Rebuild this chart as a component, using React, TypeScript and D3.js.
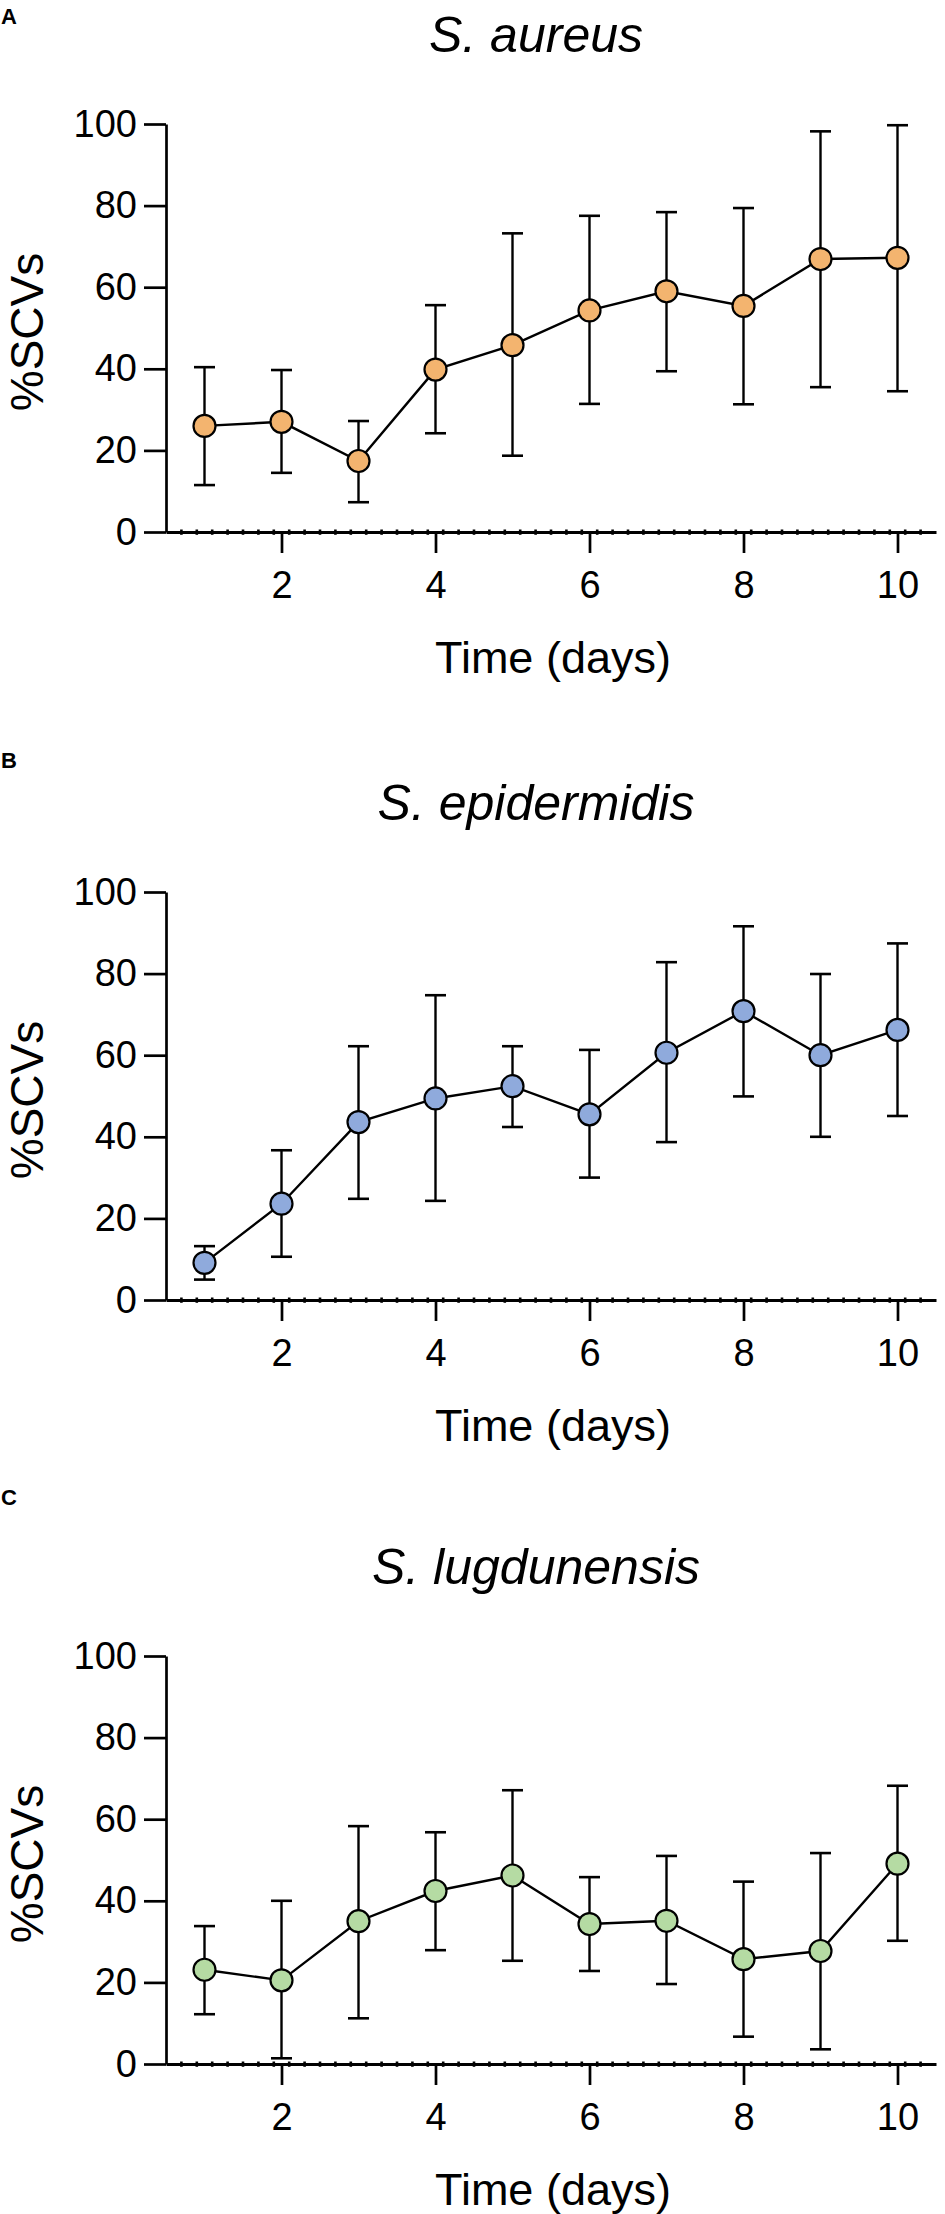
import * as d3 from "d3";
import { useEffect, useRef } from "react";

// values (mean and the two ends of each error bar)
const days = [1, 2, 3, 4, 5, 6, 7, 8, 9, 10];

const aureusMean = [26.0, 27.0, 17.4, 39.8, 45.8, 54.3, 59.0, 55.4, 66.9, 67.2];
const aureusUpper = [40.4, 39.7, 27.2, 55.6, 73.2, 77.5, 78.4, 79.4, 98.2, 99.7];
const aureusLower = [11.5, 14.5, 7.3, 24.2, 18.7, 31.4, 39.4, 31.3, 35.5, 34.5];

const epiMean = [9.1, 23.6, 43.6, 49.4, 52.4, 45.5, 60.6, 70.8, 60.0, 66.2];
const epiUpper = [13.2, 36.7, 62.2, 74.7, 62.2, 61.3, 82.8, 91.6, 79.9, 87.4];
const epiLower = [5.0, 10.6, 24.8, 24.3, 42.4, 30.0, 38.7, 49.9, 40.0, 45.1];

const lugMean = [23.1, 20.5, 35.0, 42.4, 46.2, 34.3, 35.1, 25.7, 27.7, 49.1];
const lugUpper = [33.8, 40.0, 58.3, 56.8, 67.1, 45.8, 51.0, 44.7, 51.7, 68.2];
const lugLower = [12.2, 1.4, 11.2, 27.9, 25.3, 22.8, 19.6, 6.7, 3.6, 30.2];

const yTicks = [0, 20, 40, 60, 80, 100];
const xTicks = [2, 4, 6, 8, 10];

const font = "'Liberation Sans', Arial, sans-serif";
const width = 945;
const height = 2214;
const margin = { top: 124, left: 166 };
const plotW = 770;
const plotH = 408;

interface Panel {
  letter: string;
  letterY: number;
  offset: number;
  title: string;
  color: string;
  mean: number[];
  upper: number[];
  lower: number[];
}

const panels: Panel[] = [
  { letter: "A", letterY: 24, offset: 0, title: "S. aureus", color: "#F3B46F", mean: aureusMean, upper: aureusUpper, lower: aureusLower },
  { letter: "B", letterY: 768, offset: 768, title: "S. epidermidis", color: "#8FAADC", mean: epiMean, upper: epiUpper, lower: epiLower },
  { letter: "C", letterY: 1505, offset: 1532, title: "S. lugdunensis", color: "#B5DBA3", mean: lugMean, upper: lugUpper, lower: lugLower },
];

function drawPanel(svg: d3.Selection<SVGSVGElement, unknown, null, undefined>, p: Panel) {
  const x = d3.scaleLinear().domain([0.5, 10.5]).range([0, plotW]);
  const y = d3.scaleLinear().domain([0, 100]).range([plotH, 0]);

  // panel letter
  svg
    .append("text")
    .attr("x", 1)
    .attr("y", p.letterY)
    .style("font-family", font)
    .style("font-weight", "bold")
    .style("font-size", "22px")
    .text(p.letter);

  const g = svg
    .append("g")
    .attr("transform", `translate(${margin.left},${margin.top + p.offset})`);

  // title
  g.append("text")
    .attr("x", plotW / 2 - 15)
    .attr("y", 52 - margin.top)
    .attr("text-anchor", "middle")
    .style("font-family", font)
    .style("font-style", "italic")
    .style("font-size", "50px")
    .text(p.title);

  // y axis
  const yAxis = g
    .append("g")
    .call(d3.axisLeft(y).tickValues(yTicks).tickSize(22).tickSizeOuter(0).tickPadding(7));
  yAxis.selectAll("path, line").attr("stroke", "#000").attr("stroke-width", 2.7);
  yAxis
    .selectAll("text")
    .attr("fill", "#000")
    .style("font-family", font)
    .style("font-size", "38px");

  // x axis
  const xAxis = g
    .append("g")
    .attr("transform", `translate(0,${plotH})`)
    .call(d3.axisBottom(x).tickValues(xTicks).tickSize(21).tickSizeOuter(0).tickPadding(18));
  xAxis.selectAll("path, line").attr("stroke", "#000").attr("stroke-width", 2.7);
  xAxis.select("path").attr("stroke-width", 3.2);
  xAxis
    .selectAll("text")
    .attr("fill", "#000")
    .style("font-family", font)
    .style("font-size", "38px");

  // minor ticks on the x axis, small dots sitting on the line
  const minor = d3.range(0.7, 10.5, 0.2).filter((v) => Math.abs(v - Math.round(v / 2) * 2) > 0.05);
  xAxis
    .selectAll(".minor")
    .data(minor)
    .enter()
    .append("line")
    .classed("minor", true)
    .attr("x1", (d) => x(d))
    .attr("x2", (d) => x(d))
    .attr("y1", -2.5)
    .attr("y2", 2.8)
    .attr("stroke", "#000")
    .attr("stroke-width", 2.6);

  // axis titles
  g.append("text")
    .attr("transform", `translate(${43 - margin.left},${plotH / 2 + 4}) rotate(-90)`)
    .attr("text-anchor", "middle")
    .style("font-family", font)
    .style("font-size", "46px")
    .text("%SCVs");

  g.append("text")
    .attr("x", plotW / 2 + 2)
    .attr("y", plotH + 141)
    .attr("text-anchor", "middle")
    .style("font-family", font)
    .style("font-size", "45px")
    .text("Time (days)");

  // error bars
  const bars = g
    .selectAll(".err")
    .data(days)
    .enter()
    .append("g")
    .classed("err", true);

  bars
    .append("line")
    .attr("x1", (d) => x(d))
    .attr("x2", (d) => x(d))
    .attr("y1", (d, i) => y(p.upper[i]))
    .attr("y2", (d, i) => y(p.lower[i]))
    .attr("stroke", "#000")
    .attr("stroke-width", 2.4);

  [p.upper, p.lower].forEach((ends) => {
    bars
      .append("line")
      .attr("x1", (d) => x(d) - 10.5)
      .attr("x2", (d) => x(d) + 10.5)
      .attr("y1", (d, i) => y(ends[i]))
      .attr("y2", (d, i) => y(ends[i]))
      .attr("stroke", "#000")
      .attr("stroke-width", 2.6);
  });

  // connecting line
  const line = d3
    .line<number>()
    .x((d) => x(d))
    .y((d, i) => y(p.mean[i]));

  g.append("path")
    .datum(days)
    .attr("d", line)
    .attr("fill", "none")
    .attr("stroke", "#000")
    .attr("stroke-width", 2.4);

  // markers
  g.selectAll(".dot")
    .data(days)
    .enter()
    .append("circle")
    .classed("dot", true)
    .attr("cx", (d) => x(d))
    .attr("cy", (d, i) => y(p.mean[i]))
    .attr("r", 11)
    .attr("fill", p.color)
    .attr("stroke", "#000")
    .attr("stroke-width", 2.2);
}

export default function App() {
  const ref = useRef<SVGSVGElement>(null);

  useEffect(() => {
    if (!ref.current) return;
    const svg = d3.select(ref.current);
    svg.selectAll("*").remove();
    panels.forEach((p) => drawPanel(svg, p));
  }, []);

  return (
    <div style={{ position: "absolute", top: 0, left: 0, background: "#fff" }}>
      <svg ref={ref} width={width} height={height} style={{ display: "block" }}></svg>
    </div>
  );
}
